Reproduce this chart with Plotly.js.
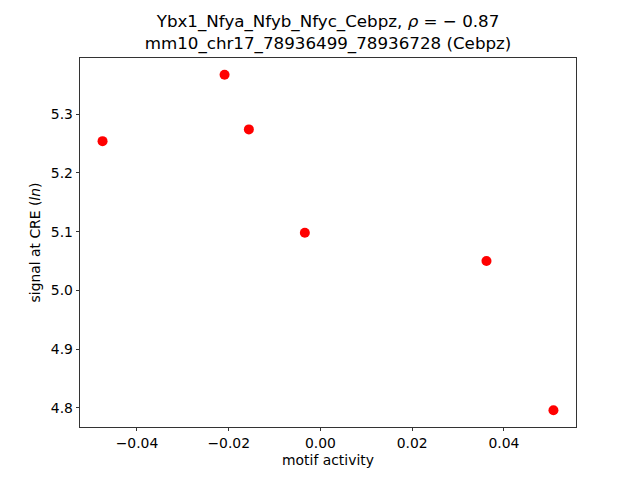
<!DOCTYPE html>
<html>
<head>
<meta charset="utf-8">
<script src="https://cdn.plot.ly/plotly-3.0.1.min.js"></script>
<style>html,body{margin:0;padding:0;background:#fff;}</style>
</head>
<body>
<div id="chart" style="width:640px;height:480px;"></div>
<script>
// Data
const motifActivity = [-0.0475, -0.0209, -0.0156, -0.0034, 0.0362, 0.0508];
const signalAtCRE   = [5.254, 5.367, 5.274, 5.098, 5.050, 4.796];

const xTickVals = [-0.04, -0.02, 0.00, 0.02, 0.04];
const xTickText = ["\u22120.04", "\u22120.02", "0.00", "0.02", "0.04"];
const yTickVals = [4.8, 4.9, 5.0, 5.1, 5.2, 5.3];
const yTickText = ["4.8", "4.9", "5.0", "5.1", "5.2", "5.3"];

const titleLine1 = "Ybx1_Nfya_Nfyb_Nfyc_Cebpz, <i>\u03c1</i> = \u2212 0.87";
const titleLine2 = "mm10_chr17_78936499_78936728 (Cebpz)";

const font = "DejaVu Sans, sans-serif";

const trace = {
  x: motifActivity,
  y: signalAtCRE,
  type: "scatter",
  mode: "markers",
  marker: {color: "#ff0000", size: 10, line: {width: 0}},
  hoverinfo: "none"
};

function pad(vals, frac) {
  const lo = Math.min(...vals), hi = Math.max(...vals);
  const m = (hi - lo) * frac;
  return [lo - m, hi + m];
}

const axisCommon = {
  showgrid: false,
  zeroline: false,
  showline: true,
  linecolor: "#000",
  linewidth: 0.8,
  mirror: true,
  ticks: "outside",
  ticklen: 3.5,
  tickwidth: 0.8,
  tickcolor: "#000",
  tickfont: {family: font, size: 13.9, color: "#000"},
  tickmode: "array"
};

const layout = {
  width: 640,
  height: 480,
  paper_bgcolor: "#fff",
  plot_bgcolor: "#fff",
  margin: {l: 80, r: 64, t: 58, b: 53, pad: 0},
  showlegend: false,
  title: {
    text: titleLine1 + "<br>" + titleLine2,
    font: {family: font, size: 16.7, color: "#000"},
    xref: "paper", x: 0.5, xanchor: "center",
    yref: "container", y: 1 - 27 / 480, yanchor: "top"
  },
  xaxis: Object.assign({}, axisCommon, {
    range: pad(motifActivity, 0.05),
    tickvals: xTickVals,
    ticktext: xTickText,
    title: {text: "motif activity", font: {family: font, size: 13.9, color: "#000"}, standoff: 5}
  }),
  yaxis: Object.assign({}, axisCommon, {
    range: pad(signalAtCRE, 0.05),
    tickvals: yTickVals,
    ticktext: yTickText,
    title: {text: "signal at CRE (<i>ln</i>)", font: {family: font, size: 13.9, color: "#000"}, standoff: 6}
  })
};

Plotly.newPlot("chart", [trace], layout, {staticPlot: true, displayModeBar: false});
</script>
</body>
</html>
